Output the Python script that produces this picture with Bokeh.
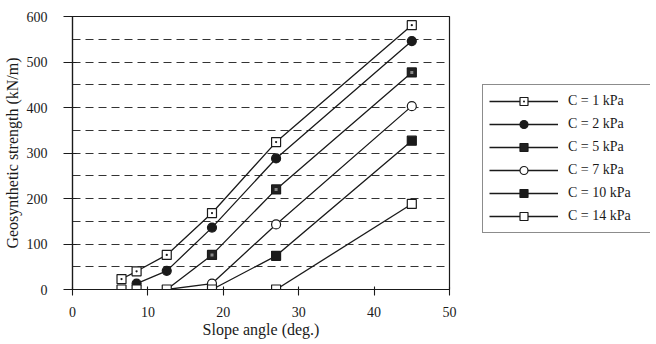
from bokeh.plotting import figure
from bokeh.layouts import row
from bokeh.models import FixedTicker, Legend, LegendItem, Range1d
from bokeh.embed import file_html
from bokeh.resources import INLINE

# ---- data ----
x_ticks = [0, 10, 20, 30, 40, 50]
y_ticks = [0, 100, 200, 300, 400, 500, 600]
grid_levels = [50, 100, 150, 200, 250, 300, 350, 400, 450, 500, 550]

labels = ["C = 1 kPa", "C = 2 kPa", "C = 5 kPa", "C = 7 kPa", "C = 10 kPa", "C = 14 kPa"]

slope_c1 = [6.5, 8.5, 12.5, 18.5, 27, 45]
strength_c1 = [23, 40, 76, 168, 324, 581]

slope_c2 = [8.5, 12.5, 18.5, 27, 45]
strength_c2 = [13, 41, 136, 288, 546]

slope_c5 = [12.5, 18.5, 27, 45]
strength_c5 = [0, 76, 220, 477]

slope_c7 = [12.5, 18.5, 27, 45]
strength_c7 = [0, 13, 143, 403]

slope_c10 = [18.5, 27, 45]
strength_c10 = [0, 74, 327]

slope_c14 = [27, 45]
strength_c14 = [0, 188]

# zero-strength points (plotted as open squares)
zero_slope = [6.5, 8.5, 12.5, 18.5, 27]
zero_strength = [0, 0, 0, 0, 0]

FONT = "Liberation Serif"
INK = "#1a1a1a"
H = 340

p = figure(width=460, height=H, output_backend="svg", toolbar_location=None,
           x_range=Range1d(0, 50), y_range=Range1d(0, 600),
           min_border_left=71, min_border_right=11, min_border_top=16, min_border_bottom=40)
p.background_fill_color = "white"
p.border_fill_color = "white"
p.outline_line_color = INK
p.outline_line_width = 1.2

# grid
p.xgrid.visible = False
p.ygrid.ticker = FixedTicker(ticks=grid_levels)
p.ygrid.grid_line_color = "#333333"
p.ygrid.grid_line_dash = "8 5"
p.ygrid.grid_line_width = 1.1

# axes
for ax in (p.xaxis[0], p.yaxis[0]):
    ax.axis_line_color = INK
    ax.axis_line_width = 1.2
    ax.major_tick_line_color = INK
    ax.major_tick_line_width = 1.1
    ax.minor_tick_line_color = None
    ax.major_label_text_font = FONT
    ax.major_label_text_font_size = "14px"
    ax.major_label_text_color = INK
    ax.axis_label_text_font = FONT
    ax.axis_label_text_font_style = "normal"
    ax.axis_label_text_font_size = "16px"
    ax.axis_label_text_color = INK

p.xaxis.ticker = FixedTicker(ticks=x_ticks)
p.yaxis.ticker = FixedTicker(ticks=y_ticks)
p.xaxis.major_tick_out = 6
p.xaxis.major_tick_in = 3
p.xaxis.major_label_standoff = 11
p.xaxis.axis_label = "Slope angle (deg.)"
p.xaxis.axis_label_standoff = 1
p.yaxis.major_tick_out = 9
p.yaxis.major_tick_in = 4
p.yaxis.major_label_standoff = 16
p.yaxis.axis_label = "Geosynthetic strength (kN/m)"
p.yaxis.axis_label_standoff = 3

series = [
    (slope_c1, strength_c1, "square_dot", "white"),
    (slope_c2, strength_c2, "circle", INK),
    (slope_c5, strength_c5, "square", "#222222"),
    (slope_c7, strength_c7, "circle", "white"),
    (slope_c10, strength_c10, "square", INK),
    (slope_c14, strength_c14, "square", "white"),
]

# legend lives in its own small figure to the right of the chart;
# its swatch renderers carry the same data but fall outside that figure's view
q = figure(width=190, height=H, output_backend="svg", toolbar_location=None,
           x_range=Range1d(0, 1), y_range=Range1d(0, 1),
           min_border_left=0, min_border_right=0, min_border_top=0, min_border_bottom=0)
q.axis.visible = False
q.grid.visible = False
q.outline_line_color = None
q.background_fill_color = "white"
q.border_fill_color = "white"

items = []
for (xs, ys, marker, fill), lab in zip(series, labels):
    p.line(xs, ys, line_color=INK, line_width=1.3)
    xs_nz = [x for x, y in zip(xs, ys) if y > 0]
    ys_nz = [y for y in ys if y > 0]
    p.scatter(xs_nz, ys_nz, marker=marker, size=9, fill_color=fill,
              line_color=INK, line_width=1.2)
    if lab == "C = 5 kPa":
        p.scatter(xs_nz, ys_nz, marker="square", size=3, fill_color="#888888", line_color=None)
    ln = q.line(xs, ys, line_color=INK, line_width=1.3)
    sc = q.scatter(xs_nz, ys_nz, marker=marker, size=9, fill_color=fill,
                   line_color=INK, line_width=1.2)
    items.append(LegendItem(label=lab, renderers=[ln, sc]))

p.scatter(zero_slope, zero_strength, marker="square", size=9, fill_color="white",
          line_color=INK, line_width=1.2)

legend = Legend(items=items, location=(22, 56), orientation="vertical")
legend.border_line_color = INK
legend.border_line_width = 1.2
legend.background_fill_color = "white"
legend.background_fill_alpha = 1.0
legend.padding = 6
legend.spacing = 3
legend.glyph_height = 20
legend.glyph_width = 69
legend.label_standoff = 10
legend.label_width = 77
legend.label_text_font = FONT
legend.label_text_font_size = "14px"
legend.label_text_color = INK
legend.margin = 0
q.add_layout(legend, "center")

open("out.html", "w").write(file_html(row(p, q), INLINE))
